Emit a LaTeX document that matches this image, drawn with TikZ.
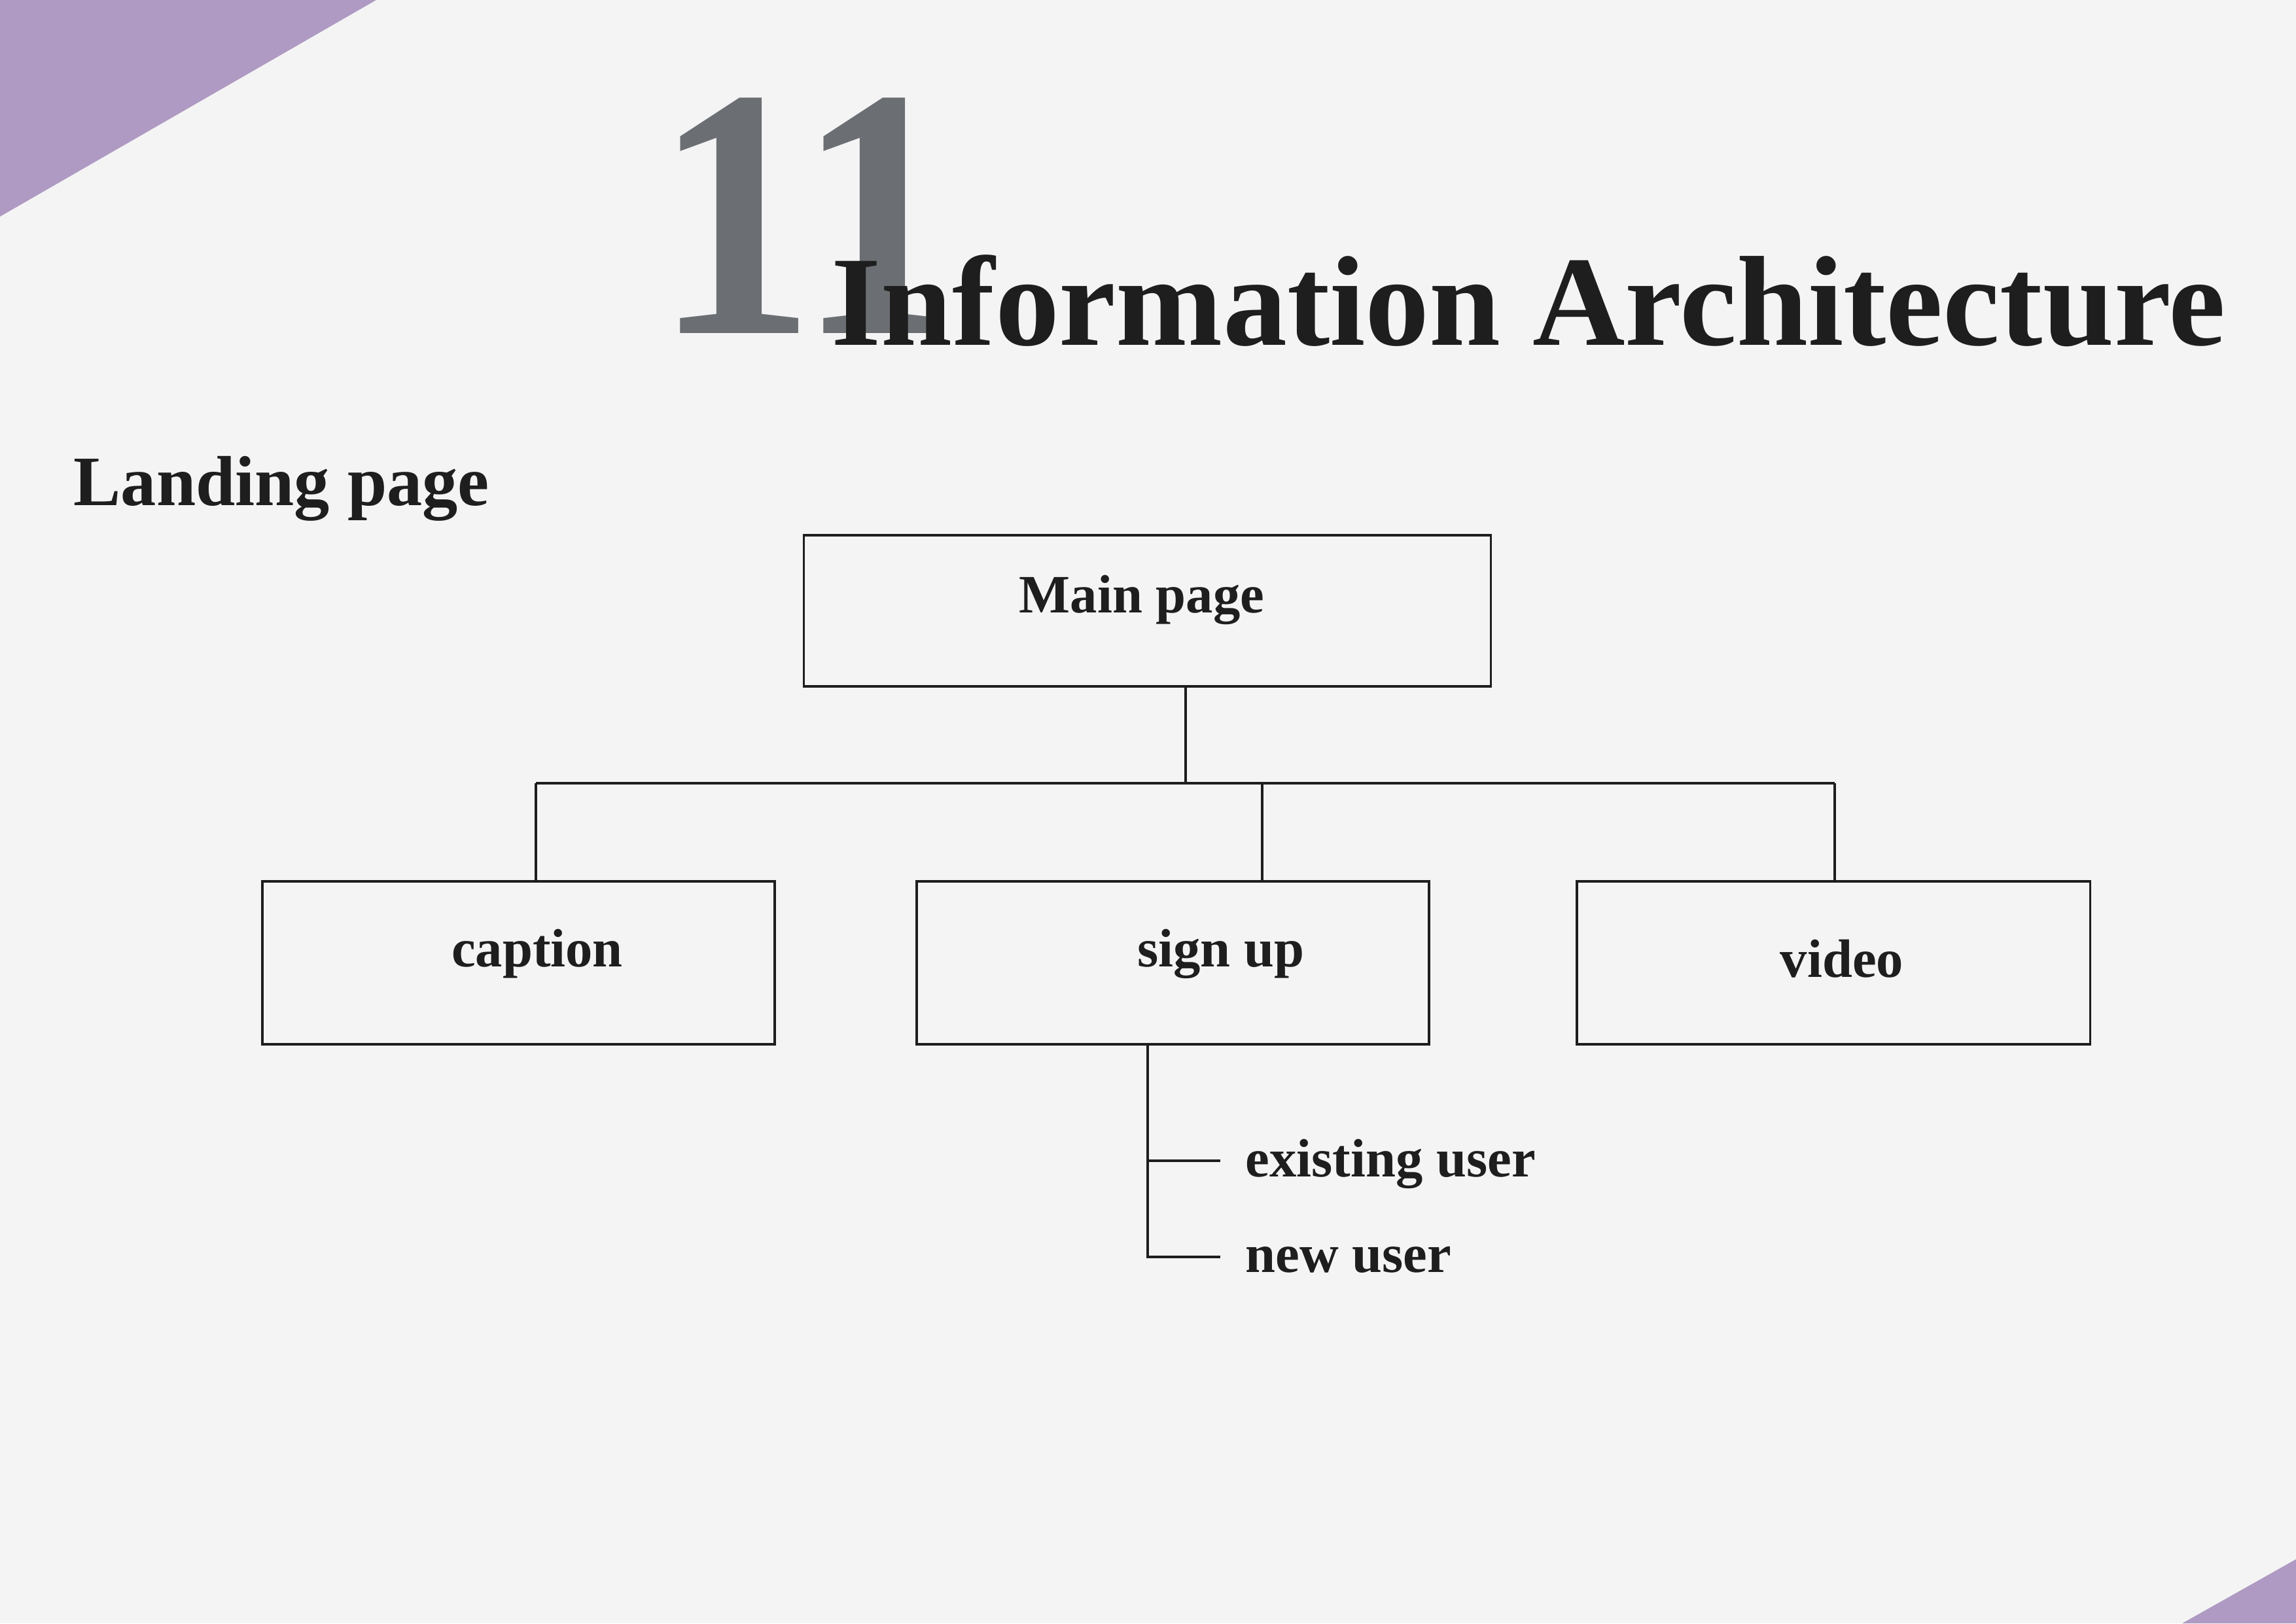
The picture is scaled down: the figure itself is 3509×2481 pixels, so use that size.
\documentclass[tikz,border=0pt]{standalone}
\usepackage{fontspec}
\setmainfont{Liberation Serif}
\usetikzlibrary{calc}
\definecolor{bg}{HTML}{F4F4F4}
\definecolor{purp}{HTML}{AF9AC3}
\definecolor{digitgray}{HTML}{6B6E72}
\definecolor{ink}{HTML}{1E1E1E}
\begin{document}
\begin{tikzpicture}[x=0.01cm,y=-0.01cm,
  boxnode/.style={draw=ink, line width=1pt, inner sep=0, fill=none},
  conn/.style={draw=ink, line width=0.9pt},
  lbl/.style={text=ink, inner sep=0, anchor=base, font=\fontsize{23.5}{28}\selectfont\bfseries},
  leaf/.style={lbl, anchor=base west}]
\useasboundingbox (0,0) rectangle (3509,2481);
\fill[bg] (0,0) rectangle (3509,2481);
\fill[purp] (0,0) -- (575,0) -- (0,331) -- cycle;
\fill[purp] (3335,2481) -- (3509,2383) -- (3509,2481) -- cycle;

% big number and title
\node[anchor=base west, inner sep=0, text=digitgray, font=\fontsize{155}{160}\selectfont\bfseries] (num) at (1000,509) {\scalebox{0.9}[1]{11}};
\node[anchor=base west, inner sep=0, text=ink, font=\fontsize{55.7}{60}\selectfont\bfseries] (title) at (1270,527) {Information Architecture};
\node[anchor=base west, inner sep=0, text=ink, font=\fontsize{30.8}{36}\selectfont\bfseries] (landing) at (112,772) {Landing page};

% boxes
\node[boxnode, minimum width=10.49cm, minimum height=2.31cm] (main) at (1753.5,933.5) {};
\node[boxnode, minimum width=7.83cm, minimum height=2.49cm] (caption) at (792.5,1471.5) {};
\node[boxnode, minimum width=7.83cm, minimum height=2.49cm] (signup) at (1792.5,1471.5) {};
\node[boxnode, minimum width=7.84cm, minimum height=2.49cm] (video) at (2802,1471.5) {};

% box labels
\node[lbl] (mainT) at (1745,936) {Main page};
\node[lbl] (captionT) at (821,1477) {caption};
\node[lbl] (signupT) at (1866,1477) {sign up};
\node[lbl] (videoT) at (2815,1493) {video};

% connectors
\coordinate (busM) at (1812,1197);
\coordinate (busL) at (819,1197);
\coordinate (busS) at (1929,1197);
\coordinate (busR) at (2804,1197);
\draw[conn] (main.south -| busM) -- (busM);
\draw[conn] (busL) -- (busR);
\draw[conn] (busL) -- (busL |- caption.north);
\draw[conn] (busS) -- (busS |- signup.north);
\draw[conn] (busR) -- (busR |- video.north);

% sign up children
\node[leaf] (existing) at (1903,1798) {existing user};
\node[leaf] (newuser) at (1903,1944) {new user};
\coordinate (trunk) at (1754,1921);
\coordinate (euEnd) at (1865,1774);
\coordinate (nuEnd) at (1865,1921);
\draw[conn] (signup.south -| trunk) -- (trunk) -- (nuEnd);
\draw[conn] (trunk |- euEnd) -- (euEnd);
\end{tikzpicture}
\end{document}
